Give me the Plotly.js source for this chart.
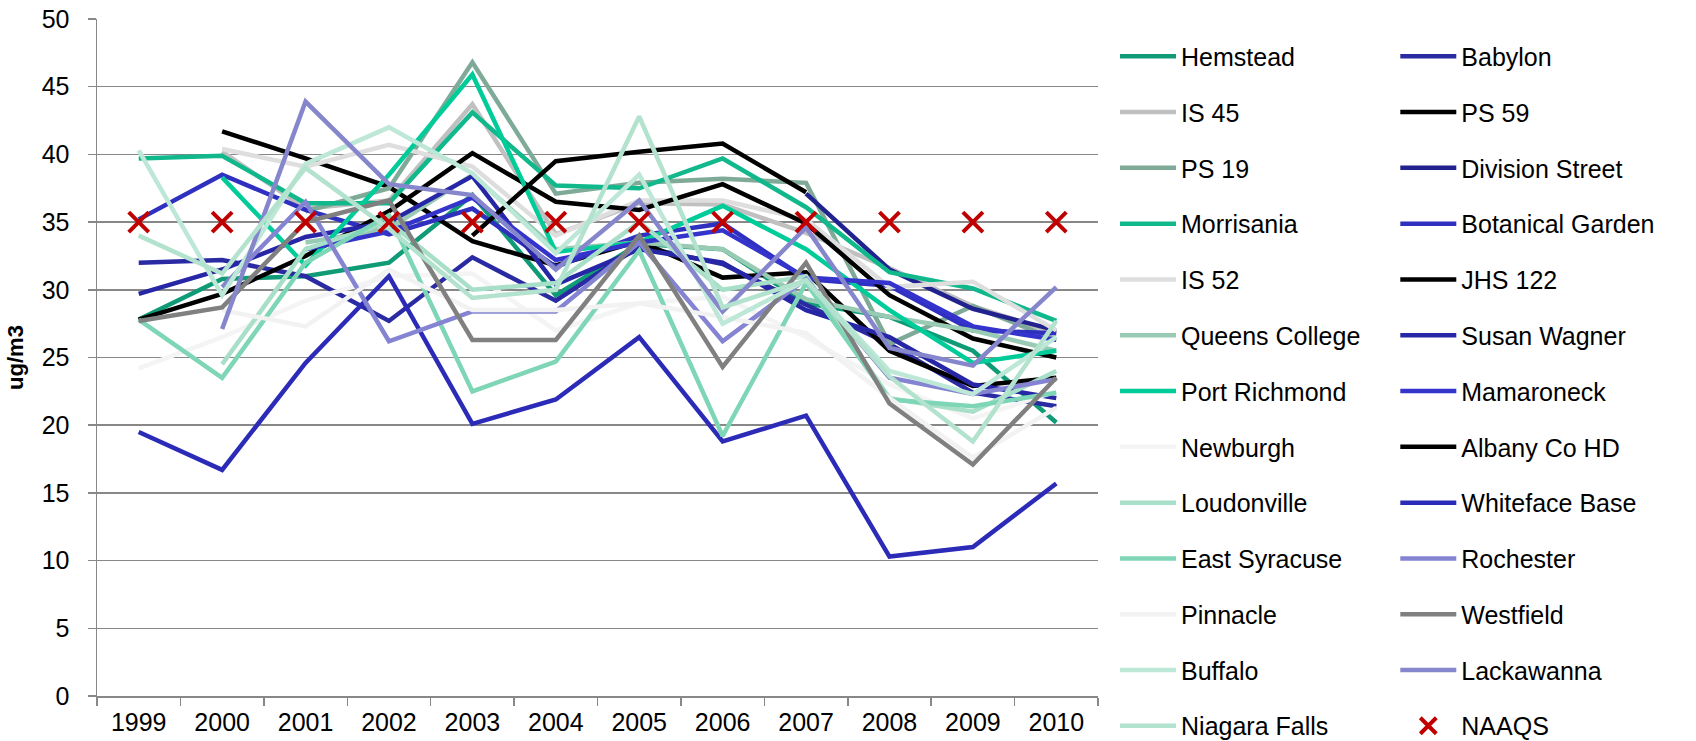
<!DOCTYPE html>
<html>
<head>
<meta charset="utf-8">
<script src="https://cdn.plot.ly/plotly-3.0.1.min.js"></script>
<style>html,body{margin:0;padding:0;background:#fff;}#chart{width:1696px;height:741px;}</style>
</head>
<body>
<div id="chart"></div>
<script>
const years = ['1999','2000','2001','2002','2003','2004','2005','2006','2007','2008','2009','2010'];

const hemstead        = [27.8, 30.8, 31.0, 32.0, 37.0, 29.6, 33.4, 33.0, 29.0, 28.0, 25.5, 20.2];
const babylon         = [32.0, 32.2, 31.0, 27.7, 32.4, 29.2, 33.2, 31.9, 28.9, 26.0, 22.4, 21.4];
const is45            = [null, 40.2, 36.0, 36.6, 43.7, 34.1, 36.4, 36.3, 34.2, 31.6, 28.8, 26.8];
const ps59            = [null, 41.7, 39.7, 37.6, 33.6, 31.8, 33.6, 30.9, 31.3, 25.5, 22.9, 23.5];
const ps19            = [null, null, 35.8, 37.5, 46.8, 37.1, 37.9, 38.2, 37.9, 26.0, 28.8, 26.3];
const divisionStreet  = [null, null, null, null, null, null, null, null, 37.1, 31.5, 28.6, 27.0];
const morrisania      = [39.7, 39.9, 36.4, 36.4, 43.1, 37.7, 37.5, 39.7, 36.1, 31.3, 30.1, 27.7];
const botanicalGarden = [35.2, 38.5, 35.9, 34.1, 36.0, 31.7, 34.0, 34.9, 30.8, 30.3, 27.0, 26.8];
const is52            = [null, 40.4, 39.1, 40.7, 39.1, 34.0, 36.6, 36.6, 35.2, 30.2, 30.6, 27.0];
const jhs122          = [27.8, 29.7, 32.5, 35.8, 40.1, 36.5, 35.9, 37.8, 34.9, 29.6, 26.4, 25.0];
const queensCollege   = [null, null, 33.5, 34.5, 38.5, 33.0, 33.5, 33.0, 29.3, 28.0, 27.0, 25.5];
const susanWagner     = [29.7, 31.5, 33.9, 35.0, 38.4, 30.4, 33.0, 32.0, 28.5, 26.5, 23.0, 22.0];
const portRichmond    = [null, 38.3, 31.8, 38.5, 45.9, 32.8, 33.5, 36.2, 33.0, 28.5, 24.6, 25.5];
const mamaroneck      = [null, null, 33.0, 34.3, 36.8, 32.2, 33.5, 34.4, 30.9, 30.5, 27.3, 26.3];
const newburgh        = [24.2, 26.5, 29.2, 31.0, 31.2, 27.0, 29.0, 29.5, 26.5, 23.0, 20.5, 22.5];
const albanyCoHD      = [null, null, null, null, 34.0, 39.5, 40.2, 40.8, 37.2, null, null, null];
const loudonville     = [null, 24.5, 33.0, 35.0, 30.0, 30.5, 35.0, 30.0, 31.0, 22.0, 21.0, 24.0];
const whitefaceBase   = [19.5, 16.7, 24.6, 31.0, 20.1, 21.9, 26.5, 18.8, 20.7, 10.3, 11.0, 15.7];
const eastSyracuse    = [27.8, 23.5, 32.0, 35.5, 22.5, 24.7, 32.9, 19.2, 30.5, 21.9, 21.4, 22.4];
const rochester       = [null, 30.2, 36.5, 26.2, 28.4, 28.4, 33.5, 26.2, 30.8, 23.5, 22.3, 23.4];
const pinnacle        = [null, 28.5, 27.3, 31.5, 28.5, 28.5, 29.0, 28.0, 26.8, 22.0, 17.6, 21.3];
const westfield       = [27.7, 28.7, 35.0, 36.6, 26.3, 26.3, 34.0, 24.3, 32.0, 21.6, 17.1, 23.5];
const buffalo         = [40.3, 29.6, 39.3, 42.0, 38.6, 32.7, 38.5, 27.5, 30.7, 24.0, 22.3, 26.5];
const lackawanna      = [null, 27.1, 43.9, 37.8, 37.0, 31.5, 36.6, 28.4, 34.6, 25.7, 24.4, 30.2];
const niagaraFalls    = [34.0, 31.2, 39.0, 34.5, 29.4, 30.0, 42.8, 28.7, 30.7, 23.6, 18.8, 27.7];
const naaqs           = [35, 35, 35, 35, 35, 35, 35, 35, 35, 35, 35, 35];

const series = [
  ['Hemstead', hemstead, '#0E9B76', 'legend'],
  ['Babylon', babylon, '#2A2AA2', 'legend2'],
  ['IS 45', is45, '#C0C0C0', 'legend'],
  ['PS 59', ps59, '#000000', 'legend2'],
  ['PS 19', ps19, '#7FAA98', 'legend'],
  ['Division Street', divisionStreet, '#22228F', 'legend2'],
  ['Morrisania', morrisania, '#10B88C', 'legend'],
  ['Botanical Garden', botanicalGarden, '#3030C0', 'legend2'],
  ['IS 52', is52, '#DEDEDE', 'legend'],
  ['JHS 122', jhs122, '#000000', 'legend2'],
  ['Queens College', queensCollege, '#98CAB4', 'legend'],
  ['Susan Wagner', susanWagner, '#2626A6', 'legend2'],
  ['Port Richmond', portRichmond, '#00CC99', 'legend'],
  ['Mamaroneck', mamaroneck, '#3434CC', 'legend2'],
  ['Newburgh', newburgh, '#F4F4F4', 'legend'],
  ['Albany Co HD', albanyCoHD, '#000000', 'legend2'],
  ['Loudonville', loudonville, '#A8DFC8', 'legend'],
  ['Whiteface Base', whitefaceBase, '#2B2BB8', 'legend2'],
  ['East Syracuse', eastSyracuse, '#7FD6B6', 'legend'],
  ['Rochester', rochester, '#8484D2', 'legend2'],
  ['Pinnacle', pinnacle, '#F2F2F2', 'legend'],
  ['Westfield', westfield, '#808080', 'legend2'],
  ['Buffalo', buffalo, '#BDE7D6', 'legend'],
  ['Lackawanna', lackawanna, '#8686CC', 'legend2'],
  ['Niagara Falls', niagaraFalls, '#B3E2CE', 'legend3']
];

const traces = series.map(s => ({
  type: 'scatter', mode: 'lines', name: s[0], x: years, y: s[1],
  line: {color: s[2], width: 4.5}, legend: s[3], legendgroup: s[0],
  connectgaps: false, hoverinfo: 'x+y+name'
}));
traces.push({
  type: 'scatter', mode: 'markers', name: 'NAAQS', x: years, y: naaqs,
  marker: {symbol: 'x-thin', size: 20, color: '#C00000', line: {color: '#C00000', width: 4}},
  legend: 'legend4', legendgroup: 'NAAQS'
});

const FONT = 'Liberation Sans, Arial, sans-serif';
const gridC = '#888888';

const legendCommon = {
  orientation: 'v', traceorder: 'grouped', tracegroupgap: 20.3,
  font: {family: FONT, size: 25, color: '#000'}, bgcolor: 'rgba(0,0,0,0)',
  itemwidth: 56, xanchor: 'left', yanchor: 'top', itemclick: false, itemdoubleclick: false
};
const topY = 0.9786;
const lastY = -0.0103;

const layout = {
  width: 1696, height: 741,
  margin: {l: 97, r: 598, t: 19, b: 45, autoexpand: false},
  paper_bgcolor: '#fff', plot_bgcolor: '#fff',
  font: {family: FONT, size: 25, color: '#000'},
  showlegend: true,
  legend: Object.assign({}, legendCommon, {x: 1.017, y: topY}),
  legend2: Object.assign({}, legendCommon, {x: 1.297, y: topY}),
  legend3: Object.assign({}, legendCommon, {x: 1.017, y: lastY}),
  legend4: Object.assign({}, legendCommon, {x: 1.297, y: lastY}),
  xaxis: {
    type: 'category', range: [-0.5, 11.5], tickson: 'boundaries',
    ticks: 'outside', ticklen: 8, tickwidth: 1.5, tickcolor: gridC,
    showline: true, linecolor: gridC, linewidth: 1.5, showgrid: false, zeroline: false,
    tickfont: {family: FONT, size: 25, color: '#000'}, automargin: false, ticklabelstandoff: 3
  },
  yaxis: {
    range: [0, 50], tickvals: [0,5,10,15,20,25,30,35,40,45,50],
    ticks: 'outside', ticklen: 8, tickwidth: 1.5, tickcolor: gridC,
    showline: true, linecolor: gridC, linewidth: 1.5,
    showgrid: true, gridcolor: gridC, gridwidth: 1.5, zeroline: false,
    tickfont: {family: FONT, size: 25, color: '#000'}, automargin: false, ticklabelstandoff: 13,
    title: {text: '<b>ug/m3</b>', font: {family: FONT, size: 22, color: '#000'}, standoff: 12}
  }
};

Plotly.newPlot('chart', traces, layout, {displayModeBar: false, staticPlot: true});
</script>
</body>
</html>
